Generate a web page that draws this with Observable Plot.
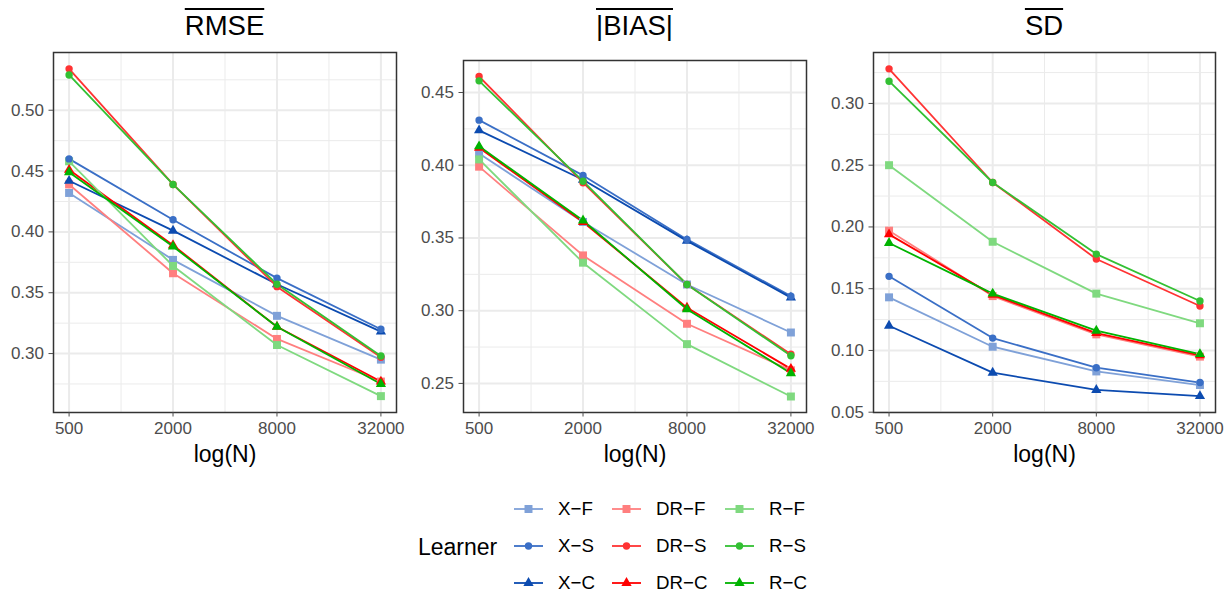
<!DOCTYPE html>
<html>
<head>
<meta charset="utf-8">
<script src="https://cdn.jsdelivr.net/npm/d3@7"></script>
<script src="https://cdn.jsdelivr.net/npm/@observablehq/plot@0.6"></script>
<style>
  body { margin: 0; background: #fff; font-family: "Liberation Sans", Arial, Helvetica, sans-serif; }
  #root { position: relative; width: 1231px; height: 595px; overflow: hidden; background: #fff; }
  .panel { position: absolute; top: 0; }
  .panel svg { overflow: visible; }
  .title { position: absolute; top: 12px; font-size: 27.5px; line-height: 1; white-space: nowrap;
           transform: translateX(-50%); color: #000; text-decoration: overline; text-decoration-thickness: 1.5px; }
  .leg-title { position: absolute; font-size: 23px; color: #000; transform: translateY(-50%); white-space: nowrap; }
  .leg-label { position: absolute; font-size: 18.7px; color: #000; transform: translateY(-50%); white-space: nowrap; }
  .leg-key { position: absolute; }
</style>
</head>
<body>
<div id="root"></div>
<script>
// ---------- data ----------
const sampleSizes = [500, 2000, 8000, 32000];
const learners = ["X-F", "X-S", "X-C", "DR-F", "DR-S", "DR-C", "R-F", "R-S", "R-C"];
const learnerLabels = ["X\u2212F", "X\u2212S", "X\u2212C", "DR\u2212F", "DR\u2212S", "DR\u2212C", "R\u2212F", "R\u2212S", "R\u2212C"];
const learnerTypes = ["F", "S", "C", "F", "S", "C", "F", "S", "C"];
const learnerColors = ["#7FA1D8", "#3A6FC6", "#0C4BB0", "#FF7F7F", "#FF3333", "#FF0000", "#7FD97F", "#33C033", "#00B300"];

// values per learner (same order as learners), at N = 500, 2000, 8000, 32000
const rmseValues = [
  [0.432, 0.377, 0.331, 0.295],
  [0.460, 0.410, 0.362, 0.320],
  [0.442, 0.401, 0.357, 0.318],
  [0.439, 0.366, 0.312, 0.277],
  [0.534, 0.439, 0.355, 0.297],
  [0.451, 0.389, 0.322, 0.277],
  [0.458, 0.372, 0.307, 0.265],
  [0.529, 0.439, 0.357, 0.298],
  [0.449, 0.388, 0.322, 0.275]
];
const biasValues = [
  [0.408, 0.361, 0.318, 0.285],
  [0.431, 0.393, 0.349, 0.310],
  [0.424, 0.390, 0.348, 0.309],
  [0.399, 0.338, 0.291, 0.259],
  [0.461, 0.388, 0.318, 0.270],
  [0.412, 0.361, 0.302, 0.260],
  [0.404, 0.333, 0.277, 0.241],
  [0.458, 0.389, 0.318, 0.269],
  [0.413, 0.362, 0.301, 0.257]
];
const sdValues = [
  [0.143, 0.103, 0.083, 0.072],
  [0.160, 0.110, 0.086, 0.074],
  [0.120, 0.082, 0.068, 0.063],
  [0.197, 0.144, 0.113, 0.095],
  [0.328, 0.236, 0.174, 0.136],
  [0.194, 0.145, 0.114, 0.096],
  [0.250, 0.188, 0.146, 0.122],
  [0.318, 0.236, 0.178, 0.140],
  [0.187, 0.146, 0.116, 0.097]
];

const xTicks = [500, 2000, 8000, 32000];
const xMinorTicks = [1000, 4000, 16000];
const rmseTicks = [0.30, 0.35, 0.40, 0.45, 0.50];
const biasTicks = [0.25, 0.30, 0.35, 0.40, 0.45];
const sdTicks = [0.05, 0.10, 0.15, 0.20, 0.25, 0.30];
const panelTitles = ["RMSE", "|BIAS|", "SD"];
const legendTitle = "Learner";
const xLabel = "log(N)";

// ---------- styling ----------
const typeSymbol = { F: "square", S: "circle", C: "triangle" };
const typeR = { F: 4.5, S: 3.7, C: 3.8 };
const FONT = '"Liberation Sans", Arial, Helvetica, sans-serif';
const lg = Math.log2;

function makePanel(values, ticks, cfg) {
  const rows = learners.flatMap((l, i) => sampleSizes.map((n, j) => ({
    learner: l, type: learnerTypes[i], N: n, v: values[i][j]
  })));
  const [lo, hi] = d3.extent(rows, d => d.v);
  const pad = (hi - lo) * 0.05;
  const yDomain = [lo - pad, hi + pad];
  const step = ticks[1] - ticks[0];
  const minor = [ticks[0] - step / 2, ...ticks.map(t => t + step / 2)]
    .filter(t => t >= yDomain[0] && t <= yDomain[1]);
  const xlo = lg(sampleSizes[0]), xhi = lg(sampleSizes[sampleSizes.length - 1]);
  const xpad = (xhi - xlo) * 0.05;
  return Plot.plot({
    width: cfg.width, height: 470,
    marginLeft: 53, marginRight: cfg.marginRight, marginTop: cfg.marginTop, marginBottom: 58,
    style: { fontFamily: FONT, background: "transparent", overflow: "visible" },
    x: { domain: [xlo - xpad, xhi + xpad] },
    y: { domain: yDomain },
    color: { domain: learners, range: learnerColors },
    symbol: { domain: ["F", "S", "C"], range: ["square", "circle", "triangle"] },
    r: { type: "identity" },
    marks: [
      Plot.gridX(xMinorTicks.map(lg), { stroke: "#EBEBEB", strokeOpacity: 1, strokeWidth: 1 }),
      Plot.gridY(minor, { stroke: "#EBEBEB", strokeOpacity: 1, strokeWidth: 1 }),
      Plot.gridX(xTicks.map(lg), { stroke: "#EBEBEB", strokeOpacity: 1, strokeWidth: 2 }),
      Plot.gridY(ticks, { stroke: "#EBEBEB", strokeOpacity: 1, strokeWidth: 2 }),
      Plot.line(rows, { x: d => lg(d.N), y: "v", z: "learner", stroke: "learner", strokeWidth: 1.8 }),
      Plot.dot(rows, { x: d => lg(d.N), y: "v", fill: "learner", symbol: "type", r: d => typeR[d.type] }),
      Plot.frame({ stroke: "#333333", strokeWidth: 1.5 }),
      Plot.axisX(xTicks.map(lg), { tickFormat: d => String(Math.round(2 ** d)), tickSize: 4.5, tickPadding: 5,
                                   fontSize: 17, color: "#4D4D4D", label: null }),
      Plot.axisY(ticks, { tickFormat: d3.format(".2f"), tickSize: 4.5, tickPadding: 5, fontSize: 17,
                          color: "#4D4D4D", label: null }),
      Plot.text([xLabel], { text: d => d, frameAnchor: "bottom", dy: 42, lineAnchor: "middle",
                            fontSize: 23, fill: "#000" })
    ]
  });
}

const root = document.getElementById("root");
const panelCfgs = [
  { left: 0, width: 410, marginRight: 14, marginTop: 52, values: rmseValues, ticks: rmseTicks },
  { left: 410, width: 410, marginRight: 14, marginTop: 60, values: biasValues, ticks: biasTicks },
  { left: 820, width: 411, marginRight: 16, marginTop: 52, values: sdValues, ticks: sdTicks }
];
panelCfgs.forEach((cfg, k) => {
  const div = document.createElement("div");
  div.className = "panel";
  div.style.left = cfg.left + "px";
  div.appendChild(makePanel(cfg.values, cfg.ticks, cfg));
  root.appendChild(div);
  const t = document.createElement("div");
  t.className = "title";
  t.textContent = panelTitles[k];
  const frameCenter = cfg.left + 53 + (cfg.width - 53 - cfg.marginRight) / 2;
  t.style.left = frameCenter + "px";
  root.appendChild(t);
});

// ---------- legend ----------
const legTitle = document.createElement("div");
legTitle.className = "leg-title";
legTitle.textContent = legendTitle;
legTitle.style.left = "418px";
legTitle.style.top = "547px";
root.appendChild(legTitle);

const keyLeft = [514, 612, 725];
const rowY = [509, 546, 583];
learners.forEach((l, i) => {
  const col = Math.floor(i / 3), row = i % 3;
  const svg = d3.create("svg").attr("class", "leg-key").attr("width", 30).attr("height", 16)
    .style("left", keyLeft[col] + "px").style("top", (rowY[row] - 8) + "px");
  svg.append("line").attr("x1", 0).attr("x2", 29).attr("y1", 8).attr("y2", 8)
    .attr("stroke", learnerColors[i]).attr("stroke-width", 1.8);
  const t = learnerTypes[i];
  const sym = { square: d3.symbolSquare, circle: d3.symbolCircle, triangle: d3.symbolTriangle }[typeSymbol[t]];
  svg.append("path").attr("d", d3.symbol(sym, Math.PI * typeR[t] * typeR[t])())
    .attr("transform", "translate(14.5,8)").attr("fill", learnerColors[i]);
  root.appendChild(svg.node());
  const lab = document.createElement("div");
  lab.className = "leg-label";
  lab.textContent = learnerLabels[i];
  lab.style.left = (keyLeft[col] + 44) + "px";
  lab.style.top = rowY[row] + "px";
  root.appendChild(lab);
});
</script>
</body>
</html>
